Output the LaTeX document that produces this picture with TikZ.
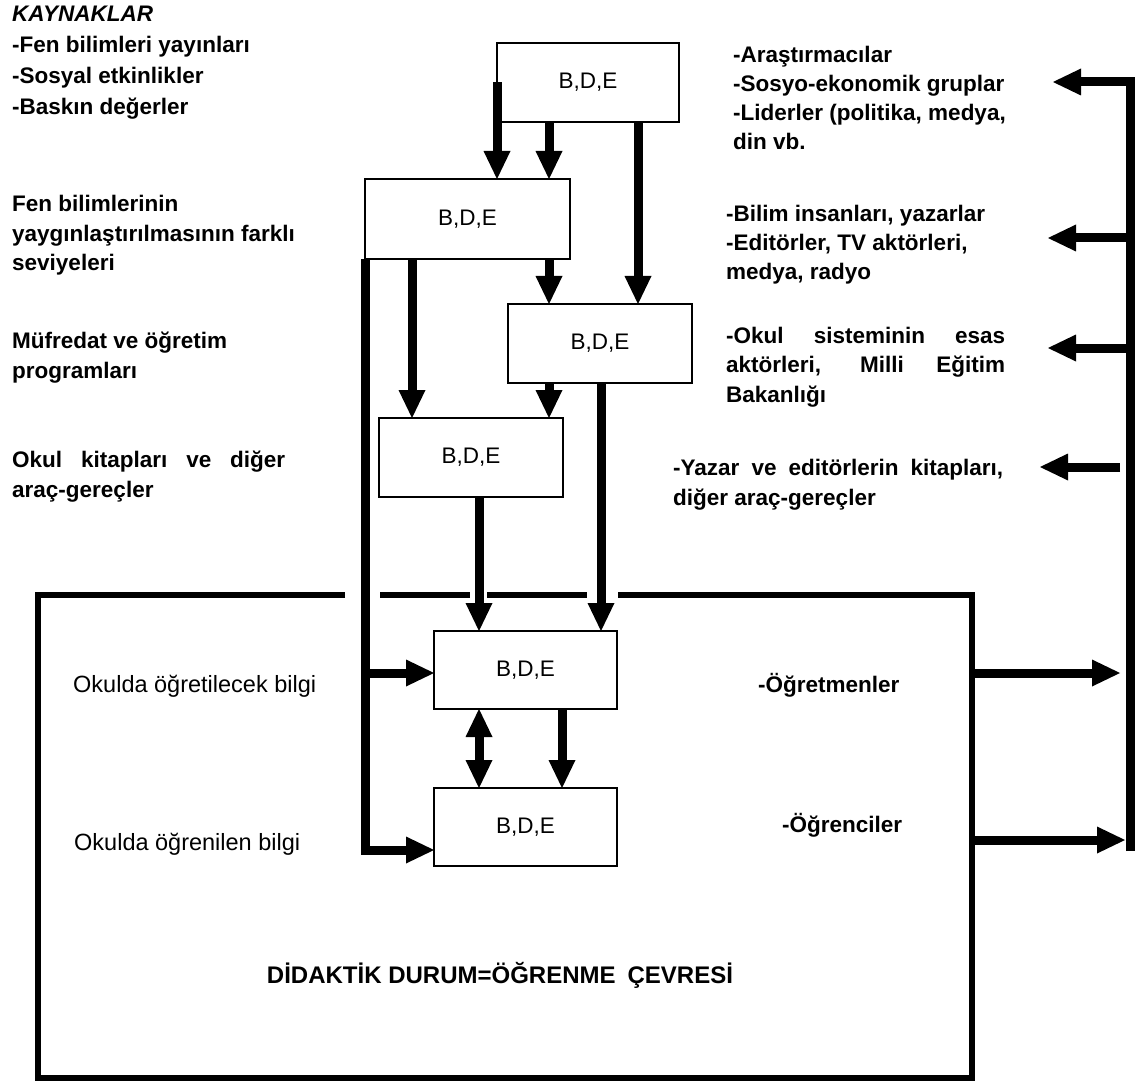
\documentclass[tikz,border=0pt]{standalone}
\usepackage{fontspec}
\setmainfont{Liberation Sans}
\usetikzlibrary{arrows.meta,calc}
% stacked lines with a fixed baseline distance; the block's baseline is its first line
\newcommand{\linesblock}[2][29.5pt]{\vtop{\baselineskip=#1\relax\lineskiplimit=-1000pt\lineskip=0pt #2}}
\begin{document}
\begin{tikzpicture}[x=1pt,y=-1pt,
  bdebox/.style={draw, line width=1.6pt, minimum height=79pt, inner sep=0pt, outer sep=0pt,
                 font=\fontsize{22.5}{27}\selectfont},
  lbl/.style={anchor=base west, inner sep=0pt, font=\fontsize{22.5}{29.5}\selectfont\bfseries},
  plain/.style={anchor=base west, inner sep=0pt, font=\fontsize{23.5}{28}\selectfont},
  tip/.tip={Triangle[width=27pt,length=28pt,line width=0pt]},
  arr/.style={line width=9pt, -tip},
  dbl/.style={line width=9pt, tip-tip},
  bus/.style={line width=9pt},
  envline/.style={line width=5.5pt}]

\useasboundingbox (0,0) rectangle (1140,1083);
\fill[white] (0,0) rectangle (1140,1083);

% column positions of the vertical connectors
\coordinate (cB) at (549,0);
\coordinate (cC) at (638,0);
\coordinate (cE) at (412,0);
\coordinate (cF) at (601,0);
\coordinate (cG) at (479,0);
\coordinate (cH) at (562,0);
\coordinate (rowM) at (0,673);
\coordinate (rowL) at (0,850);

% the learning environment frame
\node[minimum width=934pt, minimum height=483pt, inner sep=0pt, outer sep=0pt] (env) at (505,836.5) {};
\draw[envline] ([xshift=307pt]env.north west) -- (env.north west) -- (env.south west)
  -- (env.south east) -- (env.north east) -- ([xshift=-354pt]env.north east);
\draw[envline] ([xshift=342pt]env.north west) -- ([xshift=432pt]env.north west);
\draw[envline] ([xshift=449pt]env.north west) -- ([xshift=549pt]env.north west);

% knowledge boxes
\node[bdebox, minimum width=182pt] (b1) at (588,82.5) {B,D,E};
\node[bdebox, minimum width=205pt, minimum height=80pt] (b2) at (467.5,219) {B,D,E};
\node[bdebox, minimum width=184pt] (b3) at (600,343.5) {B,D,E};
\node[bdebox, minimum width=184pt] (b4) at (471,457.5) {B,D,E};
\node[bdebox, minimum width=183pt, minimum height=78pt] (b5) at (525.5,670) {B,D,E};
\node[bdebox, minimum width=183pt, minimum height=78pt] (b6) at (525.5,827) {B,D,E};

% flows between the boxes
\draw[arr] (b1.west) -- (b1.west |- b2.north);
\draw[arr] (b1.south -| cB) -- (cB |- b2.north);
\draw[arr] (b1.south -| cC) -- (cC |- b3.north);
\draw[arr] (b2.south -| cB) -- (cB |- b3.north);
\draw[arr] (b2.south -| cE) -- (cE |- b4.north);
\draw[arr] (b3.south -| cB) -- (cB |- b4.north);
\draw[arr] (b3.south -| cF) -- (cF |- b5.north);
\draw[arr] (b4.south -| cG) -- (cG |- b5.north);
\draw[dbl] (b5.south -| cG) -- (cG |- b6.north);
\draw[arr] (b5.south -| cH) -- (cH |- b6.north);
\draw[arr] (b2.south west) |- (b6.west |- rowL);
\draw[arr] (b2.south west |- rowM) -- (b5.west |- rowM);

% right-hand feedback bus
\coordinate (busTop) at (1130,82);
\coordinate (busBot) at (1130,851);
\coordinate (tipA) at (1053,82);
\coordinate (tipB) at (1048,238);
\coordinate (tipC) at (1048,348);
\coordinate (tailD) at (1120,467);
\coordinate (tipD) at (1040,467);
\coordinate (inT) at (1120,673);
\coordinate (inS) at (1125,840);
\draw[arr] (busBot) -- (busTop) -- (tipA);
\draw[arr] (busTop |- tipB) -- (tipB);
\draw[arr] (busTop |- tipC) -- (tipC);
\draw[arr] (tailD) -- (tipD);
\draw[arr] (env.east |- inT) -- (inT);
\draw[arr] (env.east |- inS) -- (inS);

% left-hand labels
\node[lbl] (src) at (12,22) {\linesblock[31pt]{\hbox{\itshape KAYNAKLAR}\hbox{-Fen bilimleri yayınları}\hbox{-Sosyal etkinlikler}\hbox{-Baskın değerler}}};
\node[lbl] (lv1) at (12,212) {\linesblock{\hbox{Fen bilimlerinin}\hbox{yaygınlaştırılmasının farklı}\hbox{seviyeleri}}};
\node[lbl] (lv2) at (12,348) {\linesblock[30.5pt]{\hbox{Müfredat ve öğretim}\hbox{programları}}};
\node[lbl] (lv3) at (12,467) {\linesblock[30pt]{\hbox{\makebox[273pt][s]{Okul kitapları ve diğer}}\hbox{araç-gereçler}}};

% right-hand labels
\node[lbl] (ac1) at (733,63) {\linesblock[29pt]{\hbox{-Araştırmacılar}\hbox{-Sosyo-ekonomik gruplar}\hbox{-Liderler (politika, medya,}\hbox{din vb.}}};
\node[lbl] (ac2) at (726,222) {\linesblock[29pt]{\hbox{-Bilim insanları, yazarlar}\hbox{-Editörler, TV aktörleri,}\hbox{medya, radyo}}};
\node[lbl] (ac3) at (726,343) {\linesblock[29.5pt]{\hbox{\makebox[279pt][s]{-Okul sisteminin esas}}\hbox{\makebox[279pt][s]{aktörleri, Milli Eğitim}}\hbox{Bakanlığı}}};
\node[lbl] (ac4) at (673,475) {\linesblock[30pt]{\hbox{\makebox[330pt][s]{-Yazar ve editörlerin kitapları,}}\hbox{diğer araç-gereçler}}};

% labels inside the environment
\node[plain] (kt) at (73,692) {Okulda öğretilecek bilgi};
\node[plain] (kl) at (74,850) {Okulda öğrenilen bilgi};
\node[lbl] (tch) at (758,692) {-Öğretmenler};
\node[lbl] (std) at (782,832) {-Öğrenciler};
\node[anchor=base, inner sep=0pt, font=\fontsize{24}{28}\selectfont\bfseries] (dd) at (500,983)
  {DİDAKTİK DURUM=ÖĞRENME\hspace{0.5em}ÇEVRESİ};
\end{tikzpicture}
\end{document}
